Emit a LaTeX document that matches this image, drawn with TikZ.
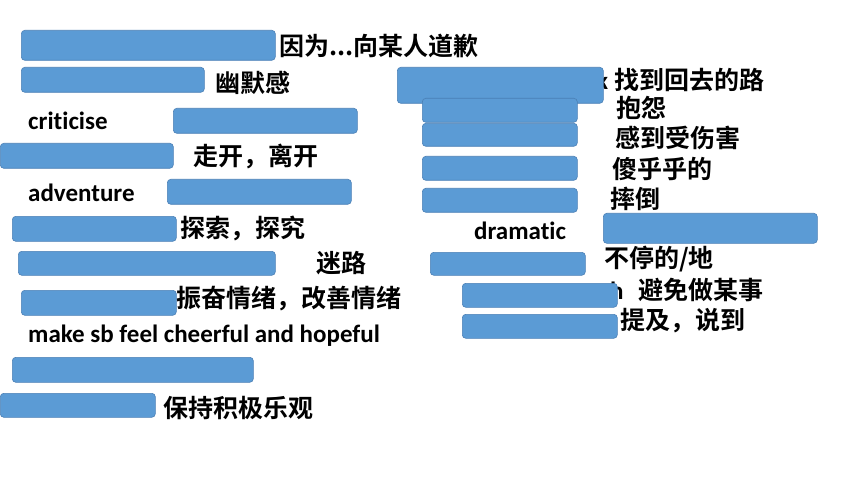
\documentclass[tikz,border=0pt]{standalone}
\usepackage{fontspec}
\setmainfont{Carlito}[Ligatures=NoCommon]
\newfontfamily\cjk{Noto Sans CJK SC Bold}
\definecolor{coverfill}{HTML}{5B9BD5}
\definecolor{coverline}{HTML}{4A7FB5}
\tikzset{
  cover/.style={fill=coverfill, draw=coverline, line width=0.6pt, rounded corners=3.5pt, anchor=north west, inner sep=0pt},
  zh/.style={anchor=west, inner sep=0pt, font=\cjk\fontsize{25}{27}\selectfont},
  en/.style={anchor=west, inner sep=0pt, font=\bfseries\fontsize{25}{28}\selectfont},
}
\newcommand{\cbox}[5]{\node[cover, minimum width=#4pt-#2pt, minimum height=#5pt-#3pt] (#1) at (#2,#3) {};}
\begin{document}
\begin{tikzpicture}[x=1pt,y=-1pt]
\useasboundingbox (0,0) rectangle (860,484);
% texts
\node[zh] (t1) at (279,46) {因为...向某人道歉};
\node[zh] (t2) at (215,83) {幽默感};
\node[en] (t3) at (28,121) {criticise};
\node[zh] (t4) at (193,156) {走开，离开};
\node[en] (t5) at (28,193) {adventure};
\node[zh] (t6) at (180,228) {探索，探究};
\node[zh] (t7) at (316,263) {迷路};
\node[zh] (t8) at (176,299) {振奋情绪，改善情绪};
\node[en] (t9) at (28,336) {make sb feel cheerful and hopeful};
\node[zh] (t10) at (163,408) {保持积极乐观};
\node[en] (fk) at (596,81) {k};
\node[zh] (t11) at (614,80) {找到回去的路};
\node[zh] (t12) at (616,108) {抱怨};
\node[zh] (t13) at (615,138) {感到受伤害};
\node[zh] (t14) at (612,169) {傻乎乎的};
\node[zh] (t15) at (610,199) {摔倒};
\node[en] (t16) at (474,231) {dramatic};
\node[zh] (t17) at (604,259) {不停的/地};
\node[en] (fh) at (610,291) {h};
\node[zh] (t18) at (638,290) {避免做某事};
\node[zh] (t19) at (620,321) {提及，说到};
% covering boxes
\cbox{b1}{21}{30}{275}{60}
\cbox{b2}{21}{67}{204}{92}
\cbox{b3}{173}{108}{357}{133}
\cbox{b4}{0}{143}{173}{168}
\cbox{b5}{167}{179}{351}{204}
\cbox{b6}{12}{216}{176}{241}
\cbox{b7}{18}{251}{275}{275}
\cbox{b8}{21}{290}{176}{315}
\cbox{b9}{12}{357}{253}{382}
\cbox{b10}{0}{393}{155}{417}
\cbox{b11}{397}{67}{603}{103}
\cbox{b12}{422}{98}{577}{122}
\cbox{b13}{422}{123}{577}{146}
\cbox{b14}{422}{156}{577}{180}
\cbox{b15}{422}{188}{577}{212}
\cbox{b16}{603}{213}{817}{243}
\cbox{b17}{430}{252}{585}{275}
\cbox{b18}{462}{283}{617}{307}
\cbox{b19}{462}{314}{617}{338}
\end{tikzpicture}
\end{document}
